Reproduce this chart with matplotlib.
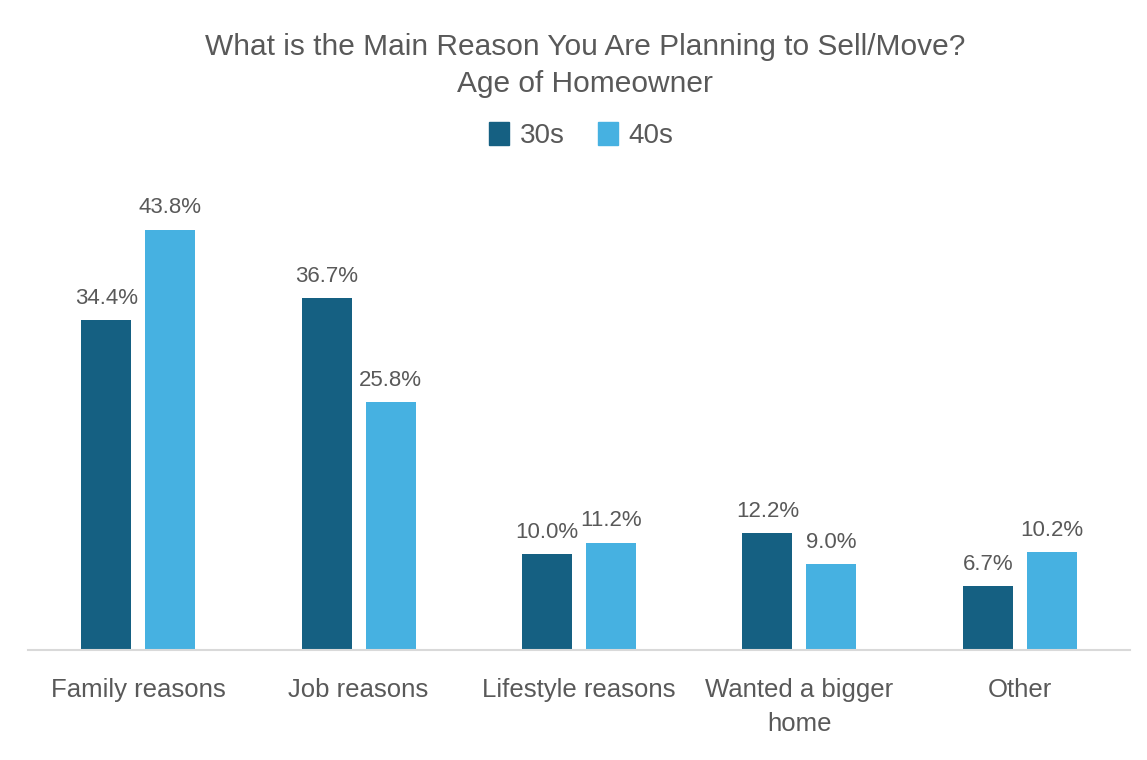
import matplotlib
matplotlib.use("Agg")
import matplotlib.pyplot as plt
import matplotlib.patches as mpatches
import numpy as np

categories = ["Family reasons", "Job reasons", "Lifestyle reasons", "Wanted a bigger\nhome", "Other"]
series_names = ["30s", "40s"]
values_30s = [34.4, 36.7, 10.0, 12.2, 6.7]
values_40s = [43.8, 25.8, 11.2, 9.0, 10.2]

dark = "#156082"
light = "#46b1e1"
grey = "#595959"

plt.rcParams['font.family'] = ['Liberation Sans', 'DejaVu Sans']

fig = plt.figure(figsize=(11.47, 7.6), dpi=100)
ax = fig.add_axes([0.0244, 0.1447, 0.9608, 0.6316])

x = np.arange(len(categories))
w = 0.227
off = 0.145
b1 = ax.bar(x - off, values_30s, w, color=dark)
b2 = ax.bar(x + off, values_40s, w, color=light)

# value labels above each bar
for bars in (b1, b2):
    for b in bars:
        ax.annotate("{:.1f}%".format(b.get_height()), (b.get_x() + b.get_width() / 2, b.get_height()),
                    xytext=(0, 8), textcoords="offset points", ha="center", va="bottom",
                    fontsize=16, color=grey)

ax.set_xlim(-0.5, len(categories) - 0.5)
ax.set_ylim(0, 50)
ax.set_yticks([])
ax.set_xticks(x)
ax.set_xticklabels(categories, fontsize=18.5, color=grey, linespacing=1.55)
ax.tick_params(axis="x", length=0, pad=20)
for s in ["top", "right", "left"]:
    ax.spines[s].set_visible(False)
ax.spines["bottom"].set_color("#d9d9d9")
ax.spines["bottom"].set_linewidth(1.5)

fig.text(0.51, 0.914, "What is the Main Reason You Are Planning to Sell/Move?\nAge of Homeowner",
         ha="center", va="center", fontsize=21.5, color=grey, linespacing=1.4)

handles = [mpatches.Patch(color=dark, label=series_names[0]),
           mpatches.Patch(color=light, label=series_names[1])]
leg = fig.legend(handles=handles, loc="center", bbox_to_anchor=(0.507, 0.822), ncol=2, frameon=False,
                 fontsize=20, handlelength=0.7, handleheight=0.9, handletextpad=0.4, columnspacing=1.2)
for t in leg.get_texts():
    t.set_color(grey)

fig.savefig("out.png", dpi=100, facecolor="white")
